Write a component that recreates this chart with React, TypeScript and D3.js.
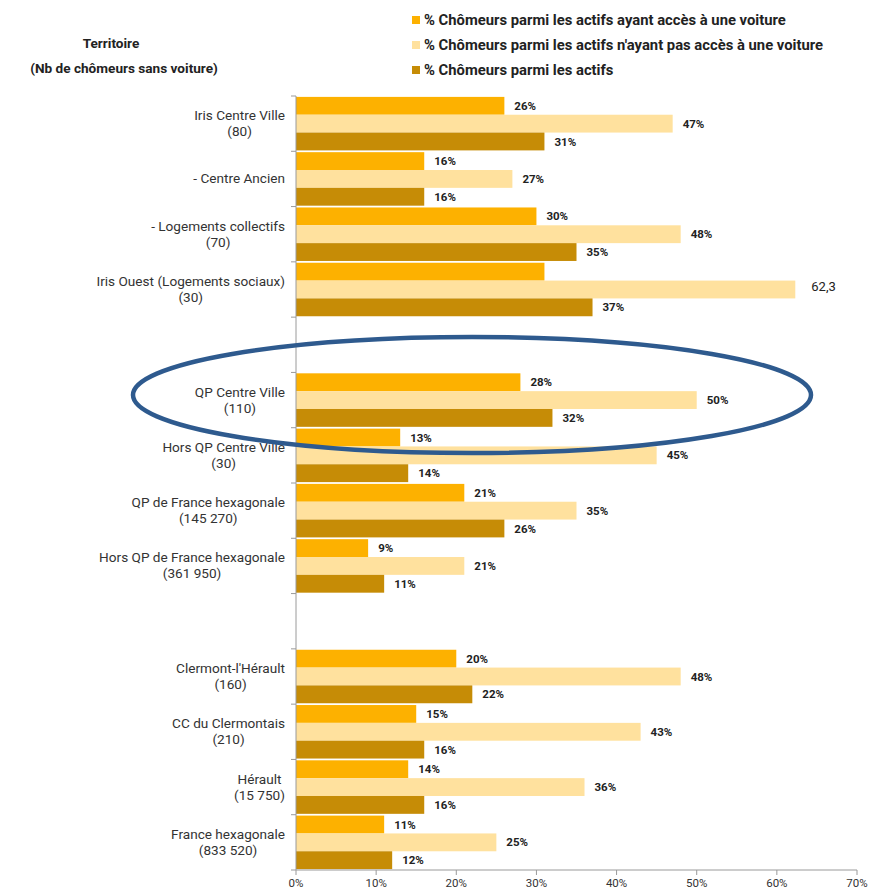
import React, { useEffect, useRef } from "react";
import * as d3 from "d3";

const territoires = [
  "Iris Centre Ville",
  "- Centre Ancien",
  "- Logements collectifs",
  "Iris Ouest (Logements sociaux)",
  "",
  "QP Centre Ville",
  "Hors QP Centre Ville",
  "QP de France hexagonale",
  "Hors QP de France hexagonale",
  "",
  "Clermont-l'Hérault",
  "CC du Clermontais",
  "Hérault",
  "France hexagonale",
];
const nbChomeurs = ["(80)", "", "(70)", "(30)", "", "(110)", "(30)", "(145 270)", "(361 950)", "", "(160)", "(210)", "(15 750)", "(833 520)"];

const avecVoiture = [26, 16, 30, 31, null, 28, 13, 21, 9, null, 20, 15, 14, 11];
const sansVoiture = [47, 27, 48, 62.3, null, 50, 45, 35, 21, null, 48, 43, 36, 25];
const ensemble = [31, 16, 35, 37, null, 32, 14, 26, 11, null, 22, 16, 16, 12];

const avecLabels = ["26%", "16%", "30%", "", "", "28%", "13%", "21%", "9%", "", "20%", "15%", "14%", "11%"];
const sansLabels = ["47%", "27%", "48%", "62,3", "", "50%", "45%", "35%", "21%", "", "48%", "43%", "36%", "25%"];
const ensembleLabels = ["31%", "16%", "35%", "37%", "", "32%", "14%", "26%", "11%", "", "22%", "16%", "16%", "12%"];

const seriesNames = [
  "% Chômeurs parmi les actifs ayant accès à une voiture",
  "% Chômeurs parmi les actifs n'ayant pas accès à une voiture",
  "% Chômeurs parmi les actifs",
];
const xTicks = [0, 10, 20, 30, 40, 50, 60, 70];
const xTickLabels = ["0%", "10%", "20%", "30%", "40%", "50%", "60%", "70%"];

const COLORS = ["#FDB100", "#FFE19E", "#C68C06"];
const FONT = "Roboto, 'Liberation Sans', sans-serif";

export default function App() {
  const ref = useRef<SVGSVGElement | null>(null);

  useEffect(() => {
    const svg = d3.select(ref.current);
    svg.selectAll("*").remove();

    const x = d3.scaleLinear().domain([0, 70]).range([296, 857]);
    const idx = territoires.map((_, i) => String(i));
    const y = d3.scaleBand().domain(idx).range([96, 870]).padding(0);
    const inner = d3.scaleBand().domain(["0", "1", "2"]).range([0, y.bandwidth()]).paddingOuter(0.05).paddingInner(0);

    const series = [avecVoiture, sansVoiture, ensemble];
    const labels = [avecLabels, sansLabels, ensembleLabels];

    const g = svg.append("g");

    // bars
    series.forEach((vals, s) => {
      vals.forEach((v, i) => {
        if (v == null) return;
        const yy = (y(String(i)) as number) + (inner(String(s)) as number);
        g.append("rect")
          .attr("x", x(0))
          .attr("y", yy)
          .attr("width", x(v) - x(0))
          .attr("height", inner.bandwidth())
          .attr("fill", COLORS[s]);
        const lab = labels[s][i];
        if (lab) {
          const special = lab.indexOf("%") < 0;
          g.append("text")
            .attr("x", x(v) + (special ? 16 : 10))
            .attr("y", yy + inner.bandwidth() / 2 + (special ? -2 : 1))
            .attr("dominant-baseline", "middle")
            .attr("font-family", FONT)
            .attr("font-size", special ? 13 : 11.5)
            .attr("font-weight", special ? 400 : 700)
            .attr("fill", "#222")
            .text(lab);
        }
      });
    });

    // y axis
    g.append("line").attr("x1", 296).attr("x2", 296).attr("y1", 96).attr("y2", 870).attr("stroke", "#9a9a9a").attr("stroke-width", 1);
    for (let i = 0; i <= territoires.length; i++) {
      const yy = i < territoires.length ? (y(String(i)) as number) : 870;
      g.append("line").attr("x1", 291).attr("x2", 296).attr("y1", yy).attr("y2", yy).attr("stroke", "#9a9a9a");
    }
    // x axis
    g.append("line").attr("x1", 296).attr("x2", 857).attr("y1", 870).attr("y2", 870).attr("stroke", "#9a9a9a");
    xTicks.forEach((t, i) => {
      g.append("line").attr("x1", x(t)).attr("x2", x(t)).attr("y1", 870).attr("y2", 875).attr("stroke", "#9a9a9a");
      g.append("text")
        .attr("x", x(t))
        .attr("y", 887)
        .attr("text-anchor", "middle")
        .attr("font-family", FONT)
        .attr("font-size", 11.5)
        .attr("fill", "#333")
        .text(xTickLabels[i]);
    });

    // category labels (two lines centred, block right-aligned)
    territoires.forEach((name, i) => {
      if (!name) return;
      const lines = nbChomeurs[i] ? [name, nbChomeurs[i]] : [name];
      const cy = (y(String(i)) as number) + y.bandwidth() / 2;
      const lh = 16;
      const t = g.append("text")
        .attr("font-family", FONT)
        .attr("font-size", 13.6)
        .attr("fill", "#333")
        .attr("text-anchor", "middle");
      const tspans = lines.map((ln, k) =>
        t.append("tspan")
          .attr("y", cy + (k - (lines.length - 1) / 2) * lh + 4.5)
          .text(ln)
      );
      const widths = tspans.map((ts) => (ts.node() as SVGTSpanElement).getComputedTextLength());
      const maxW = Math.max(...widths);
      tspans.forEach((ts) => ts.attr("x", 285 - maxW / 2));
    });

    // header
    g.append("text").attr("x", 111).attr("y", 48).attr("text-anchor", "middle")
      .attr("font-family", FONT).attr("font-size", 13.6).attr("font-weight", 700).attr("fill", "#222").text("Territoire");
    g.append("text").attr("x", 124).attr("y", 73).attr("text-anchor", "middle")
      .attr("font-family", FONT).attr("font-size", 13.6).attr("font-weight", 700).attr("fill", "#222").text("(Nb de chômeurs sans voiture)");

    // legend
    seriesNames.forEach((n, i) => {
      const ly = 20 + i * 25;
      g.append("rect").attr("x", 412).attr("y", ly - 4).attr("width", 8).attr("height", 8).attr("fill", COLORS[i]);
      g.append("text").attr("x", 424).attr("y", ly + 5)
        .attr("font-family", FONT).attr("font-size", 14.8).attr("font-weight", 700).attr("fill", "#222").text(n);
    });

    // highlight ellipse
    g.append("ellipse")
      .attr("cx", 472).attr("cy", 395).attr("rx", 339).attr("ry", 58)
      .attr("fill", "none").attr("stroke", "#2E5A8E").attr("stroke-width", 4.5);
  }, []);

  return (
    <div style={{ position: "absolute", left: 0, top: 0 }}>
      <svg ref={ref} width={875} height={893} style={{ display: "block", background: "#fff" }} />
    </div>
  );
}
